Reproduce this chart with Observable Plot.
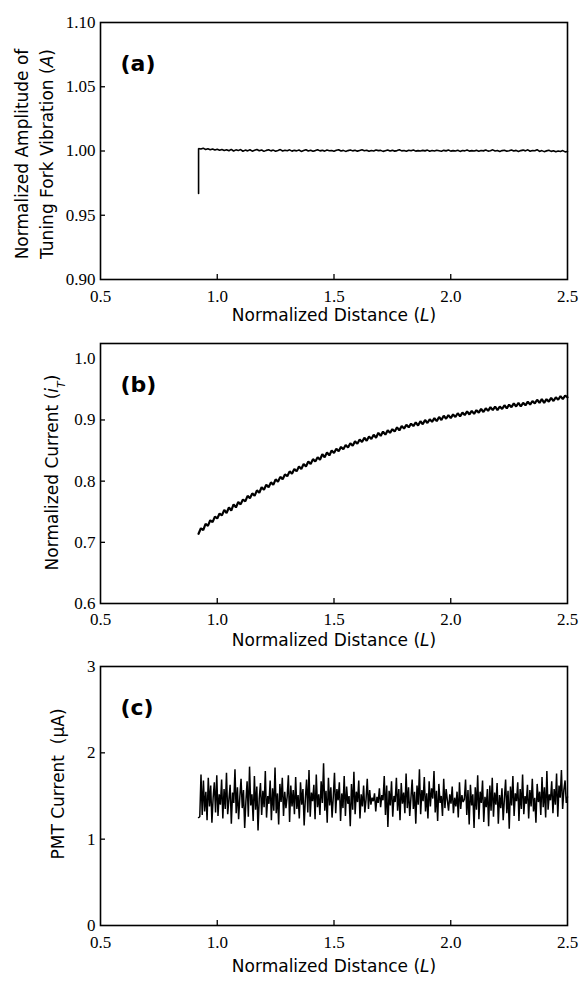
<!DOCTYPE html>
<html>
<head>
<meta charset="utf-8">
<script src="https://cdn.jsdelivr.net/npm/d3@7"></script>
<script src="https://cdn.jsdelivr.net/npm/@observablehq/plot@0.6"></script>
<style>
  html, body { margin: 0; padding: 0; background: #fff; }
  #chart { width: 579px; }
  #chart svg { display: block; }
</style>
</head>
<body>
<div id="chart"></div>
<script>
// ---------- data ----------
const distanceStart = 0.92;
const distanceEnd = 2.50;
const xTicks = [0.5, 1.0, 1.5, 2.0, 2.5];
const xInnerTicks = [1.0, 1.5, 2.0];
const xTitle = "Normalized Distance (L)";

// (a) tuning-fork amplitude
const ampTicks = [0.90, 0.95, 1.00, 1.05, 1.10];
const ampInnerTicks = [0.95, 1.00, 1.05];
const ampRiseFrom = 0.967;
const amplitude = [
  1.0020,1.0015,1.0022,1.0012,1.0018,1.0010,1.0016,1.0008,1.0014,1.0006,
  1.0012,1.0004,1.0010,1.0002,1.0013,1.0000,1.0009,1.0003,1.0011,0.9998,
  1.0007,1.0001,1.0010,0.9999,1.0006,1.0012,1.0002,1.0008,0.9997,1.0005,
  1.0010,1.0001,1.0007,0.9998,1.0004,1.0011,1.0000,1.0006,1.0002,1.0009,
  0.9999,1.0005,1.0001,1.0008,0.9997,1.0004,1.0010,1.0000,1.0006,0.9998,
  1.0003,1.0009,1.0001,1.0005,0.9999,1.0007,1.0002,1.0004,0.9998,1.0006,
  1.0010,1.0000,1.0005,0.9997,1.0003,1.0008,1.0001,1.0006,0.9999,1.0004,
  1.0009,1.0002,1.0006,0.9998,1.0004,1.0000,1.0008,1.0003,1.0005,0.9997,
  1.0002,1.0007,1.0000,1.0005,0.9999,1.0003,1.0009,1.0001,1.0004,0.9998,
  1.0006,1.0002,1.0008,0.9999,1.0003,1.0000,1.0005,1.0001,1.0007,0.9998,
  1.0004,1.0000,1.0006,1.0002,0.9998,1.0005,1.0001,1.0007,0.9999,1.0003,
  1.0000,1.0006,0.9997,1.0004,1.0001,1.0008,0.9999,1.0003,1.0000,1.0005,
  0.9998,1.0004,1.0001,1.0007,0.9999,1.0002,1.0009,1.0000,1.0004,0.9997,
  1.0003,1.0006,0.9999,1.0002,1.0008,1.0000,1.0005,0.9996,1.0003,1.0007,
  1.0001,1.0009,0.9998,1.0004,1.0002,1.0010,0.9997,1.0003,0.9995,1.0001,
  1.0006,0.9997,1.0002,0.9994,1.0000,0.9996,1.0003,0.9993,0.9996
];

// (b) normalized current
const curTicks = [0.6, 0.7, 0.8, 0.9, 1.0];
const curInnerTicks = [0.7, 0.8, 0.9];
const current = [
  0.714,0.723,0.720,0.730,0.727,0.736,0.733,0.742,
  0.739,0.747,0.744,0.753,0.748,0.757,0.752,0.762,0.757,0.766,
  0.762,0.770,0.767,0.776,0.772,0.780,0.776,0.785,0.781,0.790,
  0.786,0.794,0.790,0.798,0.794,0.803,0.799,0.807,0.803,0.811,
  0.808,0.816,0.812,0.820,0.816,0.824,0.820,0.828,0.824,0.832,
  0.828,0.836,0.832,0.839,0.835,0.844,0.839,0.847,0.842,0.850,
  0.846,0.853,0.849,0.856,0.852,0.859,0.855,0.862,0.858,0.865,
  0.861,0.868,0.864,0.871,0.866,0.873,0.869,0.876,0.871,0.879,
  0.874,0.881,0.876,0.883,0.879,0.885,0.881,0.888,0.883,0.890,
  0.886,0.892,0.888,0.894,0.890,0.896,0.891,0.898,0.893,0.900,
  0.895,0.901,0.897,0.903,0.898,0.905,0.900,0.907,0.902,0.908,
  0.903,0.909,0.905,0.911,0.906,0.912,0.908,0.914,0.909,0.915,
  0.910,0.916,0.912,0.918,0.913,0.919,0.915,0.921,0.916,0.922,
  0.916,0.922,0.918,0.924,0.919,0.925,0.921,0.927,0.922,0.928,
  0.922,0.928,0.924,0.930,0.925,0.931,0.927,0.933,0.928,0.934,
  0.928,0.934,0.930,0.936,0.931,0.937,0.933,0.939,0.934,0.940,0.937
];

// (c) PMT current
const pmtTicks = [0, 1, 2, 3];
const pmtInnerTicks = [1, 2];
const pmt = [
  1.25,1.26,1.75,1.28,1.68,1.32,1.55,1.22,1.71,1.38,1.62,1.19,1.48,1.66,1.31,1.74,1.27,1.52,1.40,1.69,
  1.24,1.58,1.35,1.77,1.29,1.46,1.63,1.18,1.54,1.42,1.81,1.30,1.60,1.23,1.49,1.70,1.36,1.57,1.13,1.44,
  1.67,1.26,1.84,1.39,1.52,1.21,1.73,1.34,1.61,1.10,1.47,1.65,1.28,1.56,1.37,1.79,1.25,1.50,1.41,1.68,
  1.22,1.59,1.33,1.83,1.30,1.53,1.17,1.64,1.43,1.71,1.27,1.55,1.36,1.49,1.74,1.20,1.62,1.38,1.57,1.29,
  1.72,1.35,1.51,1.24,1.66,1.40,1.58,1.16,1.47,1.69,1.31,1.80,1.26,1.54,1.44,1.63,1.23,1.75,1.37,1.52,
  1.28,1.67,1.42,1.88,1.33,1.56,1.19,1.71,1.39,1.60,1.25,1.49,1.77,1.30,1.58,1.45,1.66,1.21,1.53,1.36,
  1.73,1.27,1.61,1.41,1.50,1.15,1.64,1.34,1.78,1.29,1.55,1.43,1.68,1.24,1.52,1.38,1.62,1.31,1.46,1.70,
  1.35,1.57,1.40,1.48,1.44,1.53,1.32,1.49,1.42,1.59,1.37,1.51,1.45,1.73,1.28,1.62,1.14,1.56,1.39,1.67,
  1.26,1.50,1.43,1.71,1.33,1.58,1.22,1.65,1.41,1.54,1.30,1.76,1.36,1.60,1.27,1.48,1.69,1.35,1.55,1.18,
  1.62,1.40,1.81,1.29,1.57,1.44,1.72,1.32,1.53,1.24,1.67,1.38,1.59,1.47,1.79,1.31,1.56,1.21,1.64,1.42,
  1.50,1.27,1.70,1.36,1.58,1.45,1.33,1.52,1.41,1.61,1.30,1.48,1.38,1.55,1.25,1.66,1.35,1.51,1.43,1.46,
  1.69,1.28,1.57,1.17,1.63,1.39,1.52,1.13,1.60,1.34,1.74,1.23,1.55,1.42,1.68,1.20,1.49,1.37,1.58,1.15,
  1.62,1.33,1.71,1.26,1.54,1.40,1.65,1.18,1.51,1.36,1.59,1.22,1.47,1.69,1.30,1.56,1.12,1.61,1.39,1.73,
  1.27,1.53,1.44,1.66,1.21,1.58,1.35,1.75,1.29,1.50,1.41,1.63,1.24,1.57,1.38,1.70,1.32,1.48,1.19,1.64,
  1.43,1.55,1.28,1.72,1.37,1.60,1.25,1.79,1.34,1.52,1.45,1.67,1.30,1.58,1.40,1.76,1.26,1.62,1.48,1.80,
  1.35,1.57,1.68,1.42,1.49
];

const panelLabels = ["(a)", "(b)", "(c)"];
const yTitleA = ["Normalized Amplitude of", "Tuning Fork Vibration (A)"];
const yTitleB = "Normalized Current (iT)";
const yTitleC = "PMT Current  (\u03bcA)";

// ---------- helpers ----------
function series(values) {
  const n = values.length;
  return values.map((v, i) => ({d: distanceStart + (distanceEnd - distanceStart) * i / (n - 1), v}));
}

const W = 579, ML = 100, MR = 12;
const sansFont = "'DejaVu Sans', 'Liberation Sans', sans-serif";
const tickFont = "'Liberation Serif', serif";

function yTitle(text, dx, dy) {
  return Plot.text([text], {frameAnchor: "left", dx, dy, rotate: -90, textAnchor: "middle", lineAnchor: "middle", fontSize: 17, fontFamily: sansFont});
}

function panel({height, marginTop, marginBottom, yDomain, yTicks, yInner, yFormat, data, strokeWidth, label, titleDy, xPad, extra}) {
  const frameH = height - marginTop - marginBottom;
  const frameW = W - ML - MR;
  return Plot.plot({
    width: W, height, marginLeft: ML, marginRight: MR, marginTop, marginBottom,
    style: {background: "#fff", color: "#000", fontFamily: tickFont, fontSize: "17px", overflow: "visible"},
    x: {domain: [0.5, 2.5]},
    y: {domain: yDomain},
    marks: [
      Plot.line(data, {x: "d", y: "v", stroke: "#000", strokeWidth, strokeLinejoin: "miter"}),
      Plot.frame({stroke: "#000", strokeWidth: 1.6}),
      Plot.tickX(xInnerTicks, {x: d => d, insetTop: frameH - 5, stroke: "#000", strokeWidth: 1.3}),
      Plot.tickY(yInner, {y: d => d, insetRight: frameW - 5, stroke: "#000", strokeWidth: 1.3}),
      Plot.axisX(xTicks, {tickSize: 0, tickPadding: xPad, tickFormat: d3.format(".1f"), label: null, fontSize: 17}),
      Plot.axisY(yTicks, {tickSize: 0, tickPadding: 5, tickFormat: yFormat, label: null, fontSize: 17}),
      Plot.text([label], {frameAnchor: "top-left", dx: 20, dy: 33, textAnchor: "start", fontWeight: "bold", fontSize: 22, fontFamily: sansFont}),
      Plot.text([xTitle], {frameAnchor: "bottom", dy: titleDy, fontSize: 17, fontFamily: sansFont}),
      ...extra
    ]
  });
}

function richText(svg, plain, parts) {
  d3.select(svg).selectAll("text").filter(function() { return this.textContent === plain; }).each(function() {
    const t = d3.select(this);
    t.text(null);
    for (const p of parts) {
      const s = t.append("tspan").text(p.t);
      if (p.i) s.attr("font-style", "italic");
      if (p.sub) s.attr("baseline-shift", "sub").attr("font-size", "11px");
    }
  });
}

// ---------- panels ----------
const dataA = [{d: distanceStart, v: ampRiseFrom}].concat(series(amplitude));
const svgA = panel({
  height: 330, marginTop: 22, marginBottom: 51,
  yDomain: [0.90, 1.10], yTicks: ampTicks, yInner: ampInnerTicks, yFormat: d3.format(".2f"),
  data: dataA, strokeWidth: 1.6, label: panelLabels[0], titleDy: 41, xPad: 10,
  extra: [yTitle(yTitleA[0], -78, 3), yTitle(yTitleA[1], -53, 3)]
});
const svgB = panel({
  height: 325, marginTop: 13, marginBottom: 52,
  yDomain: [0.6, 1.025], yTicks: curTicks, yInner: curInnerTicks, yFormat: d3.format(".1f"),
  data: series(current), strokeWidth: 2.2, label: panelLabels[1], titleDy: 42, xPad: 9,
  extra: [yTitle(yTitleB, -48, -1)]
});
const svgC = panel({
  height: 327, marginTop: 11, marginBottom: 57,
  yDomain: [0, 3], yTicks: pmtTicks, yInner: pmtInnerTicks, yFormat: d3.format("d"),
  data: series(pmt), strokeWidth: 1.5, label: panelLabels[2], titleDy: 46, xPad: 10,
  extra: [yTitle(yTitleC, -42, -12)]
});

const chart = document.getElementById("chart");
for (const s of [svgA, svgB, svgC]) {
  chart.appendChild(s);
  richText(s, xTitle, [{t: "Normalized Distance ("}, {t: "L", i: true}, {t: ")"}]);
}
richText(svgA, yTitleA[1], [{t: "Tuning Fork Vibration ("}, {t: "A", i: true}, {t: ")"}]);
richText(svgB, yTitleB, [{t: "Normalized Current ("}, {t: "i", i: true}, {t: "T", i: true, sub: true}, {t: ")"}]);
</script>
</body>
</html>
